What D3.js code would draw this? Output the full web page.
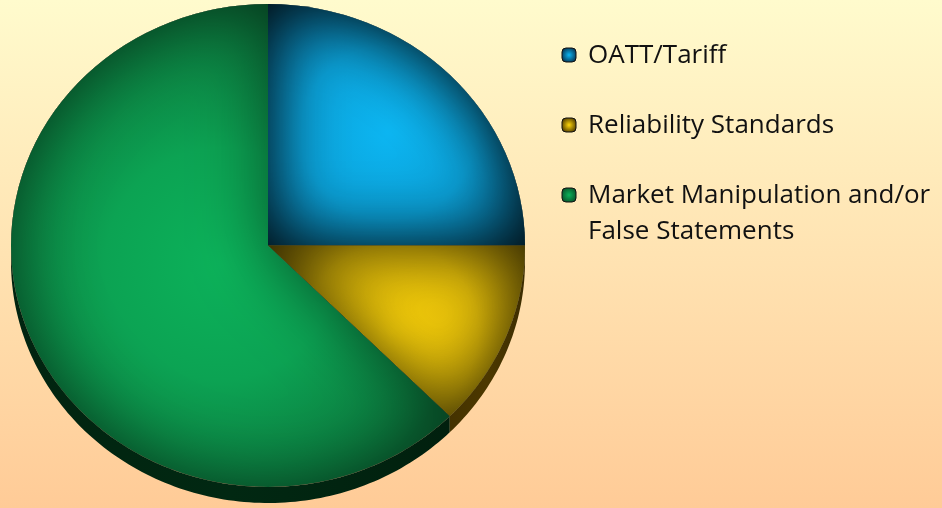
<!DOCTYPE html>
<html>
<head>
<meta charset="utf-8">
<script src="https://cdn.jsdelivr.net/npm/d3@7"></script>
<style>
  html, body { margin: 0; padding: 0; }
  body { width: 942px; height: 508px; overflow: hidden; }
  #chart {
    position: relative; width: 942px; height: 508px;
    background: linear-gradient(to bottom, #fffbcd 0%, #ffcb97 100%);
  }
  #chart canvas, #chart svg { position: absolute; left: 0; top: 0; display: block; }
</style>
</head>
<body>
<div id="chart"></div>
<script>
var categories = ["OATT/Tariff", "Reliability Standards", "Market Manipulation and/or False Statements"];
var values = [4, 2, 10];
var legendLines = [["OATT/Tariff"], ["Reliability Standards"], ["Market Manipulation and/or", "False Statements"]];
var brightColors = ["#0cb6f2", "#ffd60a", "#0cb25a"];
var darkColors = ["#05304d", "#4a3600", "#0a5028"];
var wallColors = ["#04202f", "#4c3800", "#012812"];
// shading style per slice
var lightR = [0.66, 0.6, 0.2];
var lightTurn = [0, 0.25, 0];
var shadeAlpha = [0.95, 0.72, 0.5];

var width = 942, height = 508;
var cx = 268, cy = 245.5, rx = 257, ry = 241.5, depth = 16, k = ry / rx;

var canvas = d3.select("#chart").append("canvas")
  .attr("width", width)
  .attr("height", height);
var ctx = canvas.node().getContext("2d");

var pie = d3.pie().sort(null).value(function(d) { return d; });
var arcs = pie(values);
var arc = d3.arc().innerRadius(0).outerRadius(rx).context(ctx);

// point on the tilted rim
function ept(a, r, dy) {
  return [cx + r * rx * Math.sin(a), cy - r * ry * Math.cos(a) + dy];
}
function rim(a0, a1, dy) {
  var n = Math.max(2, Math.ceil((a1 - a0) / 0.02)), pts = [];
  for (var j = 0; j <= n; j++) pts.push(ept(a0 + (a1 - a0) * j / n, 1, dy));
  return pts;
}
var line = d3.line().context(ctx);

// side walls for the front half of the disc
arcs.forEach(function(a, i) {
  var a0 = Math.max(a.startAngle, Math.PI / 2);
  var a1 = Math.min(a.endAngle, Math.PI * 3 / 2);
  if (a1 <= a0) return;
  var pts = rim(a0, a1, 0).concat(rim(a0, a1, depth).reverse());
  var p0 = ept(a0, 1, 0), p1 = ept(a1, 1, 0);
  var g = ctx.createLinearGradient(Math.max(p0[0], p1[0]), 0, Math.min(p0[0], p1[0]), 0);
  g.addColorStop(0, d3.interpolateRgb(wallColors[i], "#000")(0.2));
  g.addColorStop(0.5, wallColors[i]);
  g.addColorStop(1, d3.interpolateRgb(wallColors[i], "#000")(0.1));
  ctx.beginPath();
  line(pts);
  ctx.closePath();
  ctx.fillStyle = g;
  ctx.fill();
});

// top face: lit centre plus an inner shadow on every slice
arcs.forEach(function(a, i) {
  var mid = (a.startAngle + a.endAngle) / 2 + lightTurn[i];
  var lp = ept(mid, lightR[i], 0);
  var R = i == 2 ? rx * 1.0 : rx * 0.75;

  ctx.save();
  ctx.setTransform(1, 0, 0, k, cx, cy);
  ctx.beginPath();
  arc(a);
  ctx.closePath();
  ctx.clip();

  ctx.setTransform(1, 0, 0, 1, 0, 0);
  var g = ctx.createRadialGradient(lp[0], lp[1], 0, lp[0], lp[1], R);
  g.addColorStop(0, brightColors[i]);
  g.addColorStop(0.45, d3.interpolateRgb(brightColors[i], darkColors[i])(0.15));
  g.addColorStop(1, d3.interpolateRgb(brightColors[i], darkColors[i])(0.65));
  ctx.fillStyle = g;
  ctx.fillRect(0, 0, width, height);

  ctx.setTransform(1, 0, 0, k, cx, cy);
  ctx.beginPath();
  ctx.rect(-3000, -3000, 6000, 6000);
  arc(a);
  ctx.closePath();
  ctx.shadowColor = "rgba(0,0,0," + shadeAlpha[i] + ")";
  ctx.shadowBlur = 70;
  ctx.shadowOffsetX = 0;
  ctx.shadowOffsetY = 0;
  ctx.fillStyle = "#000";
  ctx.fill("evenodd");
  ctx.restore();
});

// legend
var svg = d3.select("#chart").append("svg")
  .attr("width", width)
  .attr("height", height);
var defs = svg.append("defs");
categories.forEach(function(c, i) {
  var m = defs.append("radialGradient").attr("id", "mark" + i)
    .attr("cx", "50%").attr("cy", "50%").attr("r", "60%");
  m.append("stop").attr("offset", "0%").attr("stop-color", brightColors[i]);
  m.append("stop").attr("offset", "100%").attr("stop-color", darkColors[i]);
});

var legendY = [55, 125, 195];
var legend = svg.append("g");
categories.forEach(function(c, i) {
  var g = legend.append("g").attr("transform", "translate(569," + legendY[i] + ")");
  g.append("rect")
    .attr("x", -7).attr("y", -7).attr("width", 14).attr("height", 14)
    .attr("rx", 4)
    .attr("fill", "url(#mark" + i + ")")
    .attr("stroke", "#111").attr("stroke-width", 1);
  var t = g.append("text")
    .attr("x", 19).attr("y", 8)
    .attr("font-family", "'Open Sans', sans-serif")
    .attr("font-size", 26)
    .attr("fill", "#111");
  legendLines[i].forEach(function(l, j) {
    t.append("tspan").attr("x", 19).attr("dy", j == 0 ? 0 : 36).text(l);
  });
});
</script>
</body>
</html>
